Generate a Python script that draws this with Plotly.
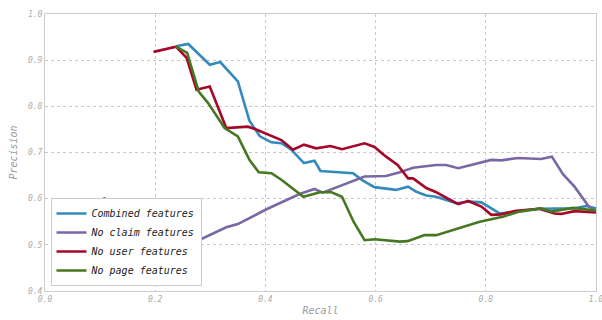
import plotly.graph_objects as go

# Combined features
combined_recall = [0.238, 0.26, 0.299, 0.318, 0.35, 0.371, 0.39, 0.411, 0.429, 0.447, 0.47, 0.489, 0.5,
                   0.559, 0.577, 0.598, 0.637, 0.659, 0.674, 0.692, 0.71, 0.746, 0.77, 0.792, 0.825,
                   0.858, 0.897, 0.961, 0.982, 1.0]
combined_precision = [0.930, 0.935, 0.89, 0.896, 0.854, 0.769, 0.735, 0.722, 0.72, 0.706, 0.677, 0.682, 0.66,
                      0.655, 0.639, 0.625, 0.619, 0.626, 0.615, 0.607, 0.604, 0.59, 0.594, 0.592, 0.568,
                      0.573, 0.578, 0.579, 0.584, 0.579]

# No claim features
noclaim_recall = [0.028, 0.068, 0.108, 0.13, 0.151, 0.178, 0.199, 0.208, 0.225, 0.256, 0.329, 0.35, 0.402,
                  0.462, 0.489, 0.504, 0.58, 0.619, 0.644, 0.668, 0.71, 0.728, 0.75, 0.789, 0.81, 0.828,
                  0.858, 0.9, 0.92, 0.94, 0.961, 0.985, 1.0]
noclaim_precision = [0.585, 0.572, 0.601, 0.584, 0.595, 0.588, 0.578, 0.554, 0.49, 0.497, 0.538, 0.545, 0.577,
                     0.61, 0.621, 0.613, 0.648, 0.649, 0.657, 0.667, 0.673, 0.673, 0.666, 0.678, 0.684, 0.683,
                     0.688, 0.686, 0.691, 0.653, 0.626, 0.586, 0.57]

# No user features
nouser_recall = [0.197, 0.238, 0.257, 0.275, 0.299, 0.329, 0.368, 0.381, 0.429, 0.45, 0.47, 0.492, 0.518,
                 0.539, 0.58, 0.598, 0.619, 0.64, 0.659, 0.668, 0.692, 0.71, 0.728, 0.75, 0.768, 0.792,
                 0.81, 0.828, 0.855, 0.897, 0.925, 0.937, 0.961, 0.988, 1.0]
nouser_precision = [0.918, 0.929, 0.905, 0.836, 0.843, 0.753, 0.756, 0.751, 0.727, 0.706, 0.717, 0.709, 0.714,
                    0.707, 0.72, 0.712, 0.691, 0.673, 0.644, 0.644, 0.623, 0.614, 0.602, 0.588, 0.595, 0.583,
                    0.565, 0.566, 0.574, 0.578, 0.568, 0.567, 0.573, 0.570, 0.570]

# No page features
nopage_recall = [0.237, 0.258, 0.279, 0.296, 0.326, 0.35, 0.371, 0.388, 0.411, 0.429, 0.469, 0.499, 0.52,
                 0.539, 0.56, 0.58, 0.598, 0.644, 0.658, 0.689, 0.71, 0.789, 0.831, 0.861, 0.9, 0.919,
                 0.958, 1.0]
nopage_precision = [0.93, 0.916, 0.832, 0.807, 0.753, 0.735, 0.684, 0.657, 0.655, 0.641, 0.604, 0.614, 0.614,
                    0.604, 0.55, 0.51, 0.512, 0.507, 0.508, 0.521, 0.521, 0.55, 0.561, 0.572, 0.579, 0.572,
                    0.58, 0.574]

series_names = ["Combined features", "No claim features", "No user features", "No page features"]
series_colors = ["#348ABD", "#7A68A6", "#A60628", "#467821"]

x_ticks = [0.0, 0.2, 0.4, 0.6, 0.8, 1.0]
y_ticks = [0.4, 0.5, 0.6, 0.7, 0.8, 0.9, 1.0]

data = [
    (combined_recall, combined_precision),
    (noclaim_recall, noclaim_precision),
    (nouser_recall, nouser_precision),
    (nopage_recall, nopage_precision),
]

MONO = "DejaVu Sans Mono"

fig = go.Figure()
for (xs, ys), name, color in zip(data, series_names, series_colors):
    fig.add_trace(go.Scatter(x=xs, y=ys, mode="lines", name=name,
                             line=dict(color=color, width=2.6)))

axis_common = dict(
    showline=True, mirror=True, linecolor="#cccccc", linewidth=1,
    showgrid=True, gridcolor="#c8c8c8", griddash="dot", gridwidth=1,
    zeroline=False, ticks="",
    tickfont=dict(family=MONO, size=8, color="#aaaaaa", style="italic"),
    tickformat=".1f",
    ticklabeloverflow="allow",
    automargin=False,
)

fig.update_layout(
    width=602, height=320,
    margin=dict(l=45, r=6, t=14, b=29),
    paper_bgcolor="white", plot_bgcolor="white",
    xaxis=dict(range=[0, 1], tickvals=x_ticks,
               title=dict(text="Recall", standoff=4,
                          font=dict(family=MONO, size=10, color="#999999", style="italic")),
               **axis_common),
    yaxis=dict(range=[0.4, 1.0], tickvals=y_ticks,
               title=dict(text="Precision", standoff=8,
                          font=dict(family=MONO, size=10, color="#999999", style="italic")),
               **axis_common),
    legend=dict(x=0.01, y=0.018, xanchor="left", yanchor="bottom",
                bgcolor="white", bordercolor="#cccccc", borderwidth=1,
                font=dict(family=MONO, size=10, color="#222222", style="italic"),
                itemwidth=30),
    showlegend=True,
)

fig.write_html("out.html")
